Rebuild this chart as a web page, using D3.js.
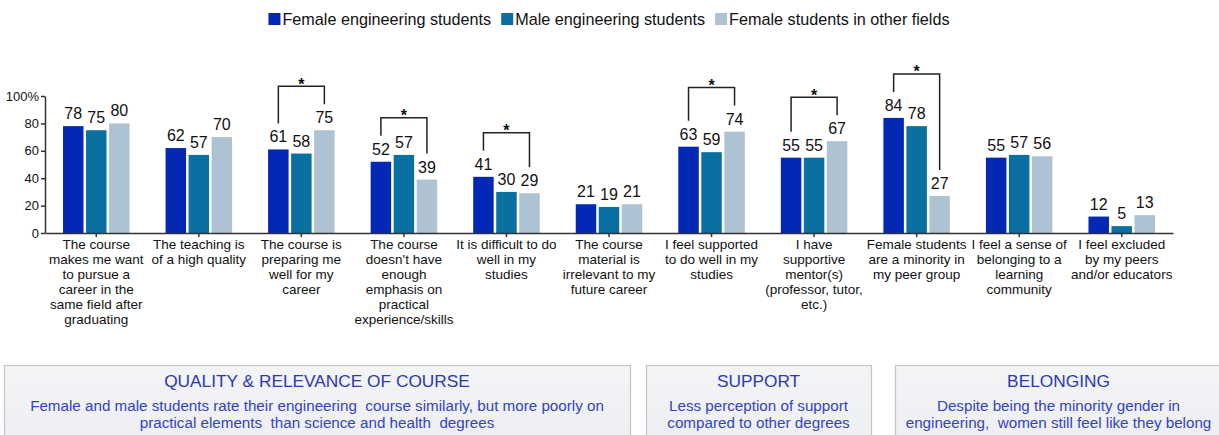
<!DOCTYPE html>
<html>
<head>
<meta charset="utf-8">
<script src="https://cdn.jsdelivr.net/npm/d3@7"></script>
<style>
  body { margin: 0; background: #fff; }
  svg { display: block; font-family: "Liberation Sans", Arial, sans-serif; }
</style>
</head>
<body>
<div id="chart"></div>
<script>
// category labels, already split into lines as in the picture
var categories = [
  ["The course", "makes me want", "to pursue a", "career in the", "same field after", "graduating"],
  ["The teaching is", "of a high quality"],
  ["The course is", "preparing me", "well for my", "career"],
  ["The course", "doesn't have", "enough", "emphasis on", "practical", "experience/skills"],
  ["It is difficult to do", "well in my", "studies"],
  ["The course", "material is", "irrelevant to my", "future career"],
  ["I feel supported", "to do well in my", "studies"],
  ["I have", "supportive", "mentor(s)", "(professor, tutor,", "etc.)"],
  ["Female students", "are a minority in", "my peer group"],
  ["I feel a sense of", "belonging to a", "learning", "community"],
  ["I feel excluded", "by my peers", "and/or educators"]
];

var seriesNames = ["Female engineering students", "Male engineering students", "Female students in other fields"];
var seriesColors = ["#0228b4", "#0a6fa1", "#adc3d3"];

var femaleEng   = [78, 62, 61, 52, 41, 21, 63, 55, 84, 55, 12];
var maleEng     = [75, 57, 58, 57, 30, 19, 59, 55, 78, 57, 5];
var femaleOther = [80, 70, 75, 39, 29, 21, 74, 67, 27, 56, 13];

// categories where female eng vs female other is marked significant
var significant = [2, 3, 4, 6, 7, 8];

var yTicks = [0, 20, 40, 60, 80, 100];

var boxes = [
  { title: "QUALITY & RELEVANCE OF COURSE",
    lines: ["Female and male students rate their engineering  course similarly, but more poorly on",
            "practical elements  than science and health  degrees"] },
  { title: "SUPPORT",
    lines: ["Less perception of support", "compared to other degrees"] },
  { title: "BELONGING",
    lines: ["Despite being the minority gender in", "engineering,  women still feel like they belong"] }
];

var width = 1219, height = 435;
var plotLeft = 45, plotRight = 1173, plotTop = 96, plotBottom = 233;

var svg = d3.select("#chart").append("svg")
  .attr("width", width)
  .attr("height", height);

var series = [femaleEng, maleEng, femaleOther];
var idx = d3.range(categories.length);

var x0 = d3.scaleBand().domain(idx).range([plotLeft, plotRight])
  .paddingInner(0.3515).paddingOuter(0.3515 / 2);
var x1 = d3.scaleBand().domain([0, 1, 2]).range([0, x0.bandwidth()])
  .paddingInner(0.11).paddingOuter(0);
var y = d3.scaleLinear().domain([0, 100]).range([plotBottom, plotTop]);

// legend
var legend = svg.append("g").attr("class", "legend");
var lx = 0;
seriesNames.forEach(function(name, i) {
  var item = legend.append("g").attr("transform", "translate(" + lx + ",0)");
  item.append("rect").attr("x", 0).attr("y", 13).attr("width", 12).attr("height", 12)
    .attr("fill", seriesColors[i]);
  var t = item.append("text").attr("x", 14).attr("y", 25)
    .attr("font-size", 16.2).attr("fill", "#111").text(name);
  lx += 14 + t.node().getComputedTextLength() + 10;
});
lx -= 10;
legend.attr("transform", "translate(" + (609 - lx / 2) + ",0)");

// bars
var groups = svg.append("g").selectAll("g")
  .data(idx).enter().append("g")
  .attr("transform", function(d) { return "translate(" + x0(d) + ",0)"; });

groups.selectAll("rect")
  .data(function(c) { return series.map(function(s, i) { return { s: i, v: s[c] }; }); })
  .enter().append("rect")
  .attr("x", function(d) { return x1(d.s); })
  .attr("y", function(d) { return y(d.v); })
  .attr("width", x1.bandwidth())
  .attr("height", function(d) { return y(0) - y(d.v); })
  .attr("fill", function(d) { return seriesColors[d.s]; });

groups.selectAll("text.val")
  .data(function(c) { return series.map(function(s, i) { return { s: i, v: s[c] }; }); })
  .enter().append("text")
  .attr("class", "val")
  .attr("x", function(d) { return x1(d.s) + x1.bandwidth() / 2; })
  .attr("y", function(d) { return y(d.v) - 7; })
  .attr("text-anchor", "middle")
  .attr("font-size", 16)
  .attr("fill", "#111")
  .text(function(d) { return d.v; });

// significance brackets
var brackets = svg.append("g");
significant.forEach(function(c) {
  var xa = x0(c) + x1(0) + x1.bandwidth() / 2;
  var xb = x0(c) + x1(2) + x1.bandwidth() / 2;
  var ya = y(femaleEng[c]) - 26;
  var yb = y(femaleOther[c]) - 26;
  var yt = Math.min(ya, yb) - 18;
  brackets.append("path")
    .attr("d", "M" + xa + "," + ya + "V" + yt + "H" + xb + "V" + yb)
    .attr("fill", "none").attr("stroke", "#222").attr("stroke-width", 1.5);
  brackets.append("text")
    .attr("x", (xa + xb) / 2).attr("y", yt + 3.5)
    .attr("text-anchor", "middle").attr("font-size", 16).attr("font-weight", "bold")
    .attr("fill", "#111").text("*");
});

// y axis
var yAxis = svg.append("g")
  .attr("transform", "translate(" + plotLeft + ",0)")
  .call(d3.axisLeft(y).tickValues(yTicks).tickSize(4).tickSizeOuter(0).tickPadding(2)
    .tickFormat(function(d) { return d === 100 ? "100%" : d; }));
yAxis.selectAll("text").attr("font-size", 13).attr("fill", "#111")
  .attr("font-family", "Liberation Sans, Arial, sans-serif");
yAxis.selectAll("line,path").attr("stroke", "#333").attr("stroke-width", 1.5);

// x axis
var xAxis = svg.append("g")
  .attr("transform", "translate(0," + plotBottom + ")")
  .call(d3.axisBottom(x0).tickSize(4).tickSizeOuter(0).tickFormat(""));
xAxis.selectAll("line,path").attr("stroke", "#333").attr("stroke-width", 1.5);

var catLabels = svg.append("g").selectAll("text")
  .data(idx).enter().append("text")
  .attr("x", function(d) { return x0(d) + x0.bandwidth() / 2; })
  .attr("y", plotBottom + 16)
  .attr("text-anchor", "middle")
  .attr("font-size", 13.5)
  .attr("fill", "#111");
catLabels.selectAll("tspan")
  .data(function(d) { return categories[d].map(function(l) { return { l: l, c: d }; }); })
  .enter().append("tspan")
  .attr("x", function(d) { return x0(d.c) + x0.bandwidth() / 2; })
  .attr("dy", function(d, i) { return i === 0 ? 0 : 15; })
  .text(function(d) { return d.l; });

// summary boxes at the bottom
var boxPos = [[4, 630], [646, 871], [895, 1222]];
var defs = svg.append("defs");
var grad = defs.append("linearGradient").attr("id", "boxfill")
  .attr("x1", 0).attr("y1", 0).attr("x2", 0).attr("y2", 1);
grad.append("stop").attr("offset", "0%").attr("stop-color", "#f3f4f6");
grad.append("stop").attr("offset", "100%").attr("stop-color", "#eceef1");

boxes.forEach(function(b, i) {
  var bx = boxPos[i][0], bw = boxPos[i][1] - boxPos[i][0];
  var cx = bx + bw / 2;
  svg.append("rect").attr("x", bx + 0.5).attr("y", 365.5)
    .attr("width", bw).attr("height", 90)
    .attr("fill", "url(#boxfill)").attr("stroke", "#c4c4c6").attr("stroke-width", 1.2);
  svg.append("text").attr("x", cx).attr("y", 387)
    .attr("text-anchor", "middle").attr("font-size", 17.3).attr("fill", "#2c38b4")
    .text(b.title);
  b.lines.forEach(function(l, j) {
    svg.append("text").attr("x", cx).attr("y", 411 + j * 17)
      .attr("text-anchor", "middle").attr("font-size", 15.2).attr("fill", "#3442c8")
      .style("white-space", "pre")
      .text(l);
  });
});
</script>
</body>
</html>
